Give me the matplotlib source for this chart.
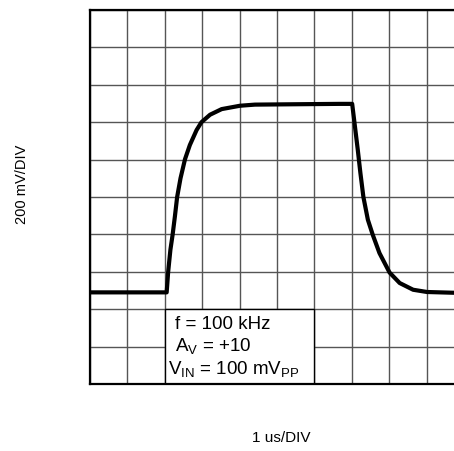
import numpy as np
import matplotlib.pyplot as plt
from matplotlib.patches import Rectangle

plt.rcParams['font.family'] = ['Liberation Sans', 'DejaVu Sans']
plt.rcParams['mathtext.fontset'] = 'custom'
plt.rcParams['mathtext.rm'] = 'Liberation Sans'

# waveform, in divisions
t_div = [0.0, 2.05, 2.09, 2.15, 2.21, 2.27, 2.33, 2.42, 2.54, 2.67, 2.85, 2.98, 3.21, 3.52,
         4.01, 4.41, 5.5, 6.67, 7.01, 7.07, 7.16, 7.23, 7.31, 7.43, 7.56, 7.74, 8.01, 8.28,
         8.64, 9.01, 9.71, 10.0]
v_div = [2.45, 2.45, 3.0, 3.59, 4.0, 4.48, 5.0, 5.50, 6.01, 6.39, 6.79, 7.0, 7.2, 7.35,
         7.44, 7.47, 7.48, 7.49, 7.49, 7.0, 6.26, 5.64, 5.0, 4.39, 3.99, 3.50, 2.98, 2.70,
         2.52, 2.46, 2.44, 2.44]

notes = ['f = 100 kHz', r'A$_\mathrm{V}$ = +10', r'V$_\mathrm{IN}$ = 100 mV$_\mathrm{PP}$']
note_x = [2.28, 2.28, 2.08]

fig = plt.figure(figsize=(4.54, 4.51), dpi=100)
ax = fig.add_axes([90 / 454, 67 / 451, 374 / 454, 374 / 451])
ax.set_xlim(0, 10)
ax.set_ylim(0, 10)
ax.set_xticks(np.arange(0, 11))
ax.set_yticks(np.arange(0, 11))
ax.tick_params(length=0, labelbottom=False, labelleft=False)
ax.grid(True, color='#555555', lw=1.0)
ax.set_axisbelow(True)
for s in ax.spines.values():
    s.set_linewidth(1.6)
    s.set_zorder(5)

ax.plot(t_div, v_div, color='black', lw=3.0, zorder=3, solid_joinstyle='round')

ax.add_patch(Rectangle((2, 0), 4, 2, facecolor='white', edgecolor='black', lw=1.0, zorder=4))
for i, s in enumerate(notes):
    ax.text(note_x[i], 1.58 - i * 0.6, s, fontsize=13.5, va='center', ha='left', zorder=6)

fig.text(22 / 454, 1 - 184 / 451, '200 mV/DIV', rotation=90, ha='center', va='center', fontsize=10.5)
fig.text(281 / 454, 1 - 438 / 451, '1 us/DIV', ha='center', va='center', fontsize=11)

fig.savefig('out.png', dpi=100)
